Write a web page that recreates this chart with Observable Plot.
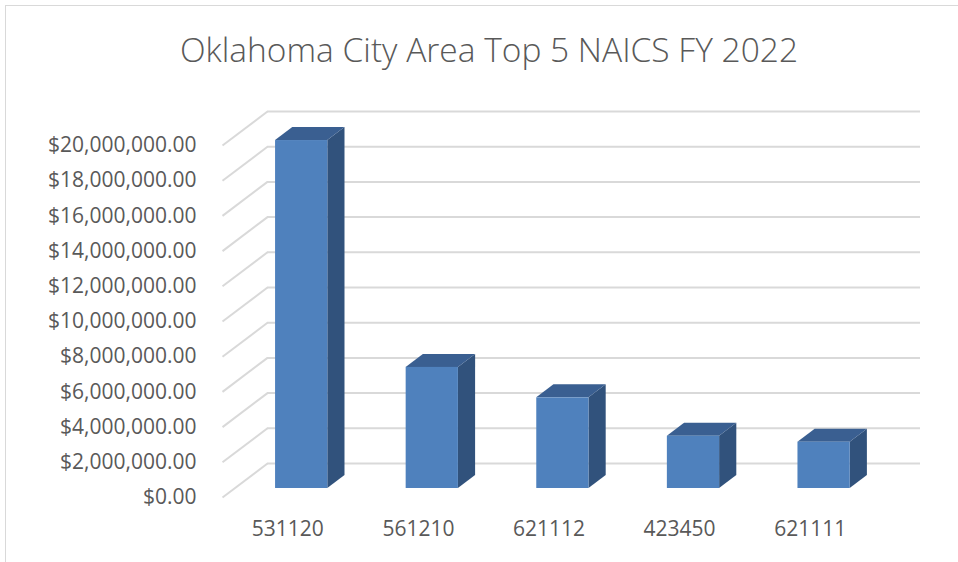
<!DOCTYPE html>
<html>
<head>
<meta charset="utf-8">
<script src="https://cdn.jsdelivr.net/npm/d3@7"></script>
<script src="https://cdn.jsdelivr.net/npm/@observablehq/plot@0.6"></script>
<style>
  html, body { margin: 0; padding: 0; background: #fff; }
  #wrap { position: relative; width: 958px; height: 562px; overflow: hidden; }
  #frame { position: absolute; left: 5px; top: 5px; width: 1000px; height: 600px;
           border-left: 1.5px solid #D9D9D9; border-top: 1.5px solid #D9D9D9; }
  #title { position: absolute; left: 0; top: 29px; width: 978px; text-align: center;
           font-family: "Open Sans", sans-serif; font-weight: 300; font-size: 33.5px;
           line-height: 40px; color: #595959; white-space: nowrap; }
  #chart { position: absolute; left: 0; top: 0; }
</style>
</head>
<body>
<div id="wrap">
  <div id="frame"></div>
  <div id="chart"></div>
  <div id="title">Oklahoma City Area Top 5 NAICS FY 2022</div>
</div>
<script>
// ---- data ----
const categories = ["531120", "561210", "621112", "423450", "621111"];
const values = [19770000, 6880000, 5150000, 2970000, 2630000];
const yTicks = [0, 2000000, 4000000, 6000000, 8000000, 10000000, 12000000, 14000000, 16000000, 18000000, 20000000];

// ---- oblique projection parameters (data units per unit of depth) ----
const KX = 0.3446;      // x shift per depth (category units)
const KY = 1932000;     // y shift per depth (value units)
const Z1 = 0.265, Z2 = 0.647;  // bar front / back depth
const A = 0.315, B = 0.715;    // bar left / right within category slot

const bars = categories.map((c, i) => ({c, i, v: values[i]}));
const sidePts = bars.flatMap(d => [Z1, Z2].map(z => ({c: d.c, x: d.i + B + z * KX, y1: z * KY, y2: d.v + z * KY})));
const topPts = bars.flatMap(d => [Z1, Z2].map(z => ({c: d.c, y: d.v + z * KY, x1: d.i + A + z * KX, x2: d.i + B + z * KX})));

const grid = "#D9D9D9";
const plot = Plot.plot({
  width: 958,
  height: 562,
  marginLeft: 222,
  marginRight: 83,
  marginTop: 145,
  marginBottom: 65,
  style: {fontFamily: "'Open Sans', sans-serif", color: "#595959", background: "transparent"},
  x: {type: "linear", domain: [0, 5], axis: null},
  y: {type: "linear", domain: [0, 20000000], axis: null},
  marks: [
    Plot.ruleY(yTicks, {y: d => d + KY, x1: KX, x2: 5 + KX, stroke: grid, strokeWidth: 2}),
    Plot.link(yTicks, {x1: 0, y1: d => d, x2: KX, y2: d => d + KY, stroke: grid, strokeWidth: 2}),
    Plot.areaY(sidePts, {x: "x", y1: "y1", y2: "y2", z: "c", fill: "#31527C"}),
    Plot.areaX(topPts, {y: "y", x1: "x1", x2: "x2", z: "c", fill: "#3A5F91"}),
    Plot.rect(bars, {x1: d => d.i + A + Z1 * KX, x2: d => d.i + B + Z1 * KX, y1: d => Z1 * KY, y2: d => d.v + Z1 * KY, fill: "#4F81BD"}),
    Plot.axisY(yTicks, {anchor: "left", tickSize: 0, tickPadding: 26, fontSize: 21, tickFormat: d3.format("$,.2f")}),
    Plot.text(categories, {x: (d, i) => i + 0.5, y: () => 0, dy: 32, fontSize: 21, fill: "#595959", text: d => d})
  ]
});
document.getElementById("chart").appendChild(plot);
</script>
</body>
</html>
